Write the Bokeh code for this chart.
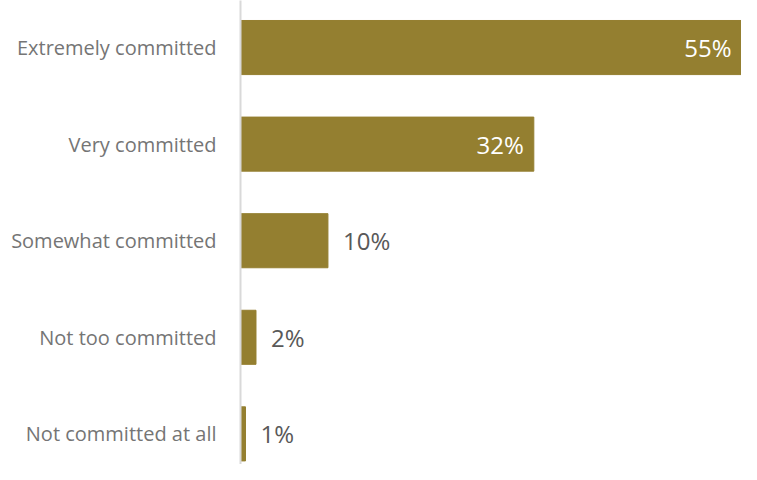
from bokeh.plotting import figure
from bokeh.models import Range1d, FixedTicker, ColumnDataSource
from bokeh.embed import file_html
from bokeh.resources import INLINE

categories = ["Extremely committed", "Very committed", "Somewhat committed",
              "Not too committed", "Not committed at all"]
values = [55.0, 32.2, 9.6, 1.7, 0.55]
value_labels = ["55%", "32%", "10%", "2%", "1%"]

BAR = "#947F30"
idx = list(range(len(categories)))

p = figure(width=741, height=464, output_backend="svg", toolbar_location=None,
           x_range=Range1d(0, 55), y_range=Range1d(4.317, -0.487),
           min_border_left=240, min_border_right=0, min_border_top=0, min_border_bottom=0)

src = ColumnDataSource(dict(
    y=idx, v=values, lab=value_labels,
    align=["right" if v > 20 else "left" for v in values],
    off=[-10 if v > 20 else 15 for v in values],
    col=["#FFFFFF" if v > 20 else "#595959" for v in values],
))

p.hbar(y="y", left=0, right="v", height=0.56, color=BAR, source=src)

p.text(x="v", y="y", text="lab", text_align="align", text_baseline="middle",
       x_offset="off", text_color="col", text_font_size="24px",
       text_font={"value": "Open Sans"}, source=src)

p.xaxis.visible = False
p.xgrid.visible = False
p.ygrid.visible = False
p.outline_line_color = None

ya = p.yaxis[0]
ya.ticker = FixedTicker(ticks=idx)
ya.major_label_overrides = {i: c for i, c in enumerate(categories)}
ya.major_tick_line_color = None
ya.minor_tick_line_color = None
ya.axis_line_color = "#D9D9D9"
ya.axis_line_width = 2
ya.major_label_text_color = "#757575"
ya.major_label_text_font = "Open Sans"
ya.major_label_text_font_size = "20px"
ya.major_label_standoff = 18

open("out.html", "w").write(file_html(p, INLINE))
